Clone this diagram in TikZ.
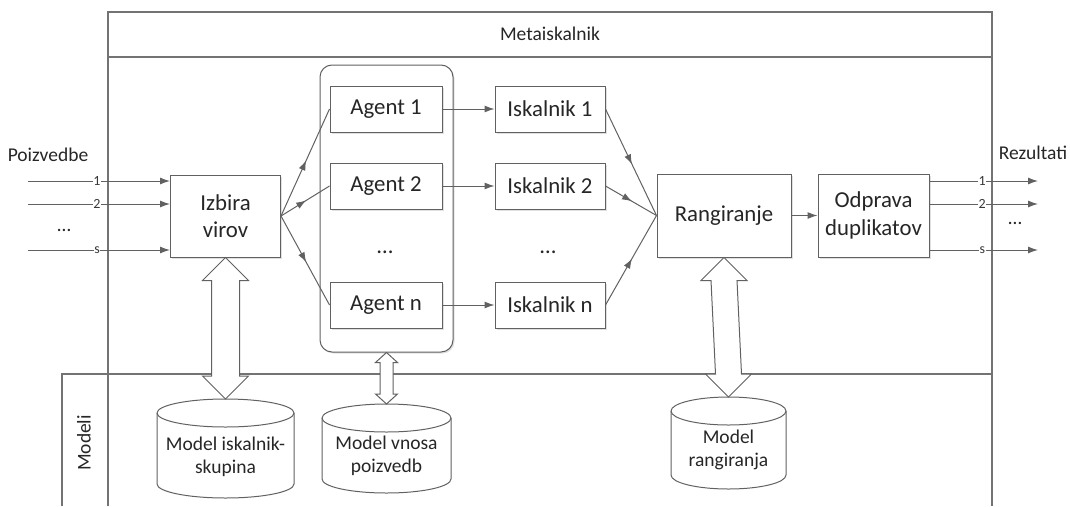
\documentclass[tikz,border=0pt]{standalone}
\usepackage{fontspec}
\setmainfont{Carlito}
\usetikzlibrary{arrows.meta,decorations.markings,calc,shadows}

\newcommand\bxfont{\fontsize{22.8}{27.5}\selectfont}
\newcommand\lbfont{\fontsize{19.5}{23}\selectfont}
\newcommand\nmfont{\fontsize{14}{16}\selectfont}

% hollow double arrow between two points: top, bottom, shaft half width, head half width, head length
\newcommand\fatarrow[5]{%
  \draw[fat] let \p1=(#1), \p2=(#2) in
    (\x1,\y1) -- (\x1+#4pt,\y1-#5pt) -- (\x1+#3pt,\y1-#5pt)
    -- (\x2+#3pt,\y2+#5pt) -- (\x2+#4pt,\y2+#5pt) -- (\x2,\y2)
    -- (\x2-#4pt,\y2+#5pt) -- (\x2-#3pt,\y2+#5pt)
    -- (\x1-#3pt,\y1-#5pt) -- (\x1-#4pt,\y1-#5pt) -- cycle;}

% database cylinder: name of top coordinate, cx, ytop, ybottom, rx, ry
\newcommand\dbcyl[6]{%
  \draw[cylst] ({#2-#5},{#3+#6}) -- ({#2-#5},{#4-#6})
    arc[start angle=180,end angle=0,x radius=#5,y radius=#6]
    -- ({#2+#5},{#3+#6})
    arc[start angle=0,end angle=-180,x radius=#5,y radius=#6] -- cycle;
  \draw[cylst,fill=none] ({#2-#5},{#3+#6})
    arc[start angle=180,end angle=0,x radius=#5,y radius=#6];
  \coordinate (#1) at (#2,#3);}

\begin{document}
\begin{tikzpicture}[x=1pt,y=-1pt,
  frame/.style={draw=black!55, line width=1.1pt},
  box/.style={draw=black!62, line width=1pt, fill=white, text=black!85,
    font=\bxfont, align=center, inner sep=0pt,
    general shadow={fill=black!12, shadow xshift=1.5pt, shadow yshift=-1.5pt}},
  agentbox/.style={box, minimum width=112pt, minimum height=46pt},
  enginebox/.style={box, minimum width=110pt, minimum height=46pt},
  container/.style={draw=black!62, line width=1pt, fill=white, rounded corners=12pt,
    minimum width=133pt, minimum height=287pt,
    general shadow={fill=black!12, shadow xshift=1.5pt, shadow yshift=-1.5pt}},
  lbl/.style={text=black!85, font=\lbfont, align=center, inner sep=0pt},
  num/.style={text=black!78, font=\nmfont, fill=white, inner sep=0.6pt},
  conn/.style={color=black!62, line width=1pt},
  tip/.style={-{Latex[length=10pt,width=7pt]}},
  midtip/.style={postaction={decorate}, decoration={markings,
    mark=at position 0.52 with {\arrow{Latex[length=10pt,width=7pt]}}}},
  fat/.style={draw=black!62, line width=1pt, fill=white, line join=miter},
  cylst/.style={draw=black!62, line width=1pt, fill=white}
]
\useasboundingbox (0,0) rectangle (1070,506);

% frames: Metaiskalnik and Modeli
\draw[frame] (108,506) -- (108,12) -- (992,12) -- (992,506);
\draw[frame] (108,57) -- (992,57);
\draw[frame] (62,506) -- (62,374) -- (992,374);
\node[lbl] (title) at (550,34) {Metaiskalnik};
\node[lbl, rotate=90] (modeli) at (84,443) {Modeli};

% processing boxes
\node[box, minimum width=110pt, minimum height=82pt] (izb) at (225.5,216) {Izbira\\virov};
\node[container] (agents) at (386.5,208.5) {};
\node[agentbox] (a1) at (386,109) {Agent 1};
\node[agentbox] (a2) at (386,186) {Agent 2};
\node[agentbox] (an) at (386,305) {Agent n};
\node[lbl, font=\bxfont] (adots) at (385,252) {…};
\node[enginebox] (i1) at (550,109) {Iskalnik 1};
\node[enginebox] (i2) at (550,186) {Iskalnik 2};
\node[enginebox] (in) at (550,305) {Iskalnik n};
\node[lbl, font=\bxfont] (idots) at (548,252) {…};
\node[box, minimum width=134pt, minimum height=83pt] (rang) at (724,215.5) {Rangiranje};
\node[box, minimum width=111pt, minimum height=83pt] (odp) at (873.5,215.5) {Odprava\\duplikatov};

% flow between boxes
\foreach \k in {1,2,n}{
  \draw[conn, midtip] (izb.east) -- (a\k.west);
  \draw[conn, tip] (a\k.east) -- (i\k.west);
  \draw[conn, midtip] (i\k.east) -- (rang.west);
}
\draw[conn, tip] (rang.east) -- (odp.west);

% queries in
\node[lbl] (poiz) at (48,155) {Poizvedbe};
\coordinate (q1) at (28,181);
\coordinate (q2) at (28,204);
\coordinate (qs) at (28,250);
\draw[conn, tip] (q1) -- (q1 -| izb.west) node[num, pos=0.486] {1};
\draw[conn, tip] (q2) -- (q2 -| izb.west) node[num, pos=0.486] {2};
\draw[conn, tip] (qs) -- (qs -| izb.west) node[num, pos=0.486] {s};
\node[lbl] (qdots) at (64,230) {…};

% results out
\node[lbl] (rez) at (1033,153) {Rezultati};
\coordinate (r1) at (1038,181);
\coordinate (r2) at (1038,204);
\coordinate (rs) at (1038,250);
\draw[conn, tip] (r1 -| odp.east) -- (r1) node[num, pos=0.486] {1};
\draw[conn, tip] (r2 -| odp.east) -- (r2) node[num, pos=0.486] {2};
\draw[conn, tip] (rs -| odp.east) -- (rs) node[num, pos=0.486] {s};
\node[lbl] (rdots) at (1015,223) {…};

% model stores
\dbcyl{m1top}{225.5}{399}{498}{68.5}{14}
\dbcyl{m2top}{386.5}{404}{493}{64.5}{14}
\dbcyl{m3top}{728.5}{397}{489}{57.5}{14}
\node[lbl] (m1) at (225.5,457) {Model iskalnik-\\skupina};
\node[lbl] (m2) at (386.5,456) {Model vnosa\\poizvedb};
\node[lbl] (m3) at (728.5,450) {Model\\rangiranja};

% exchange with the models
\fatarrow{izb.south}{m1top}{14}{23}{23}
\fatarrow{agents.south}{m2top}{6.5}{11}{10}
\fatarrow{rang.south}{m3top}{13}{23}{23}
\end{tikzpicture}
\end{document}
